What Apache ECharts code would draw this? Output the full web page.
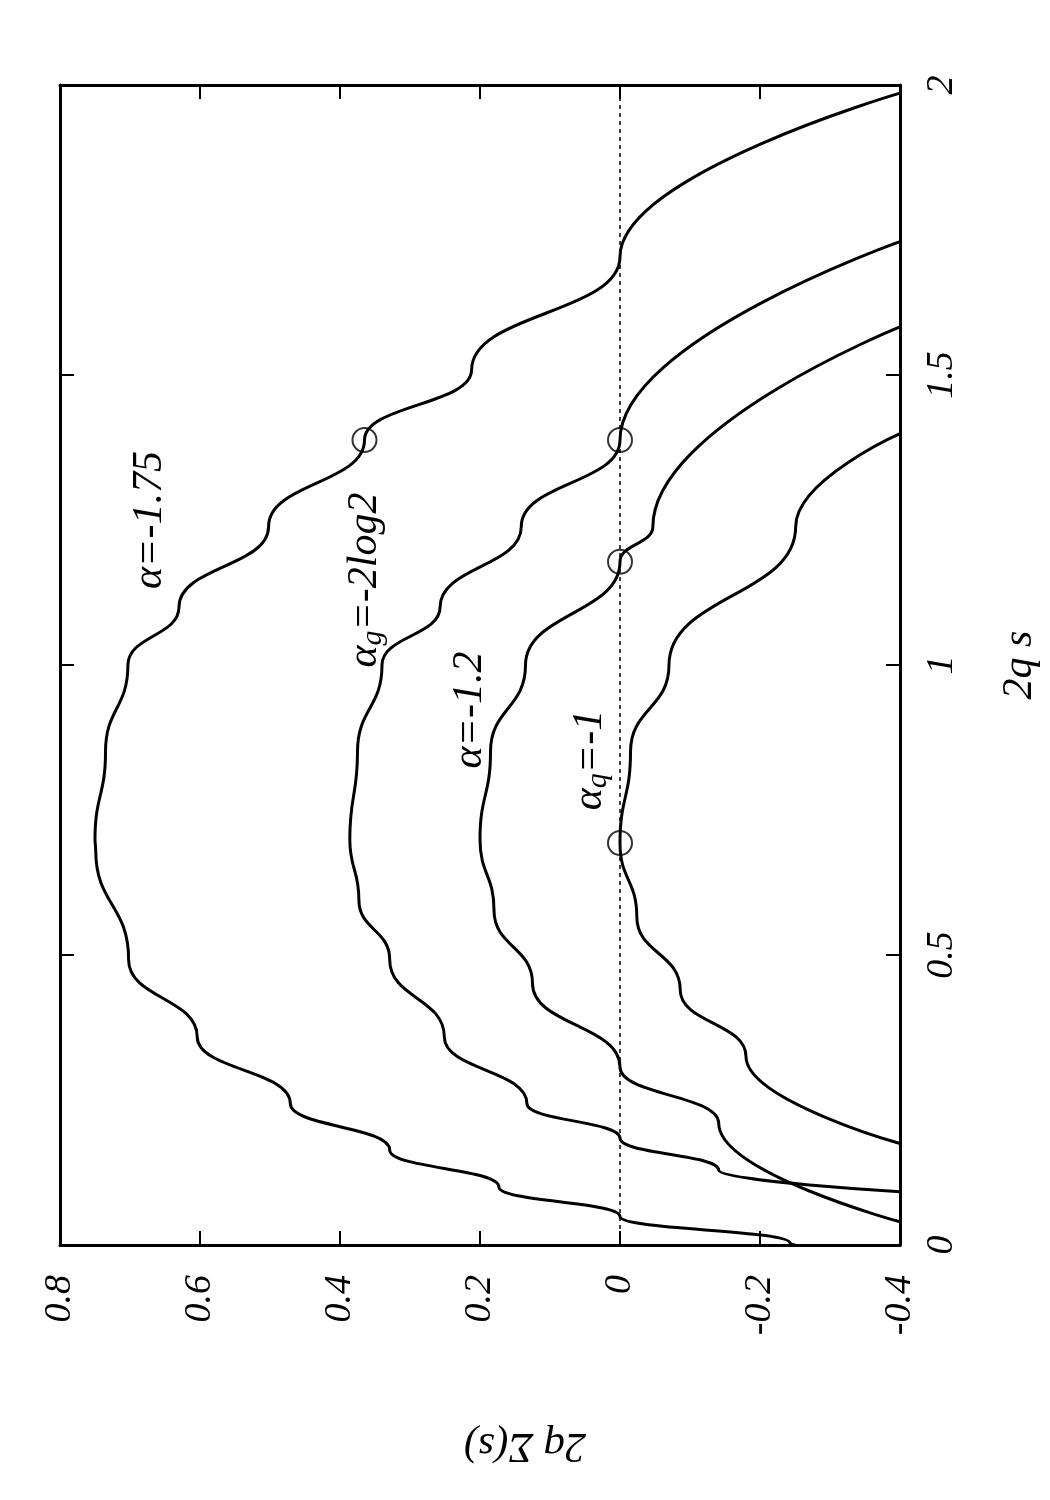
<!DOCTYPE html>
<html><head><meta charset="utf-8">
<script src="https://cdn.jsdelivr.net/npm/echarts@6/dist/echarts.min.js"></script>
<style>html,body{margin:0;background:#fff}#c{width:1050px;height:1500px}</style>
</head><body><div id="c"></div>
<script>
// each point: [2qΣ(s), 2qs]
const curveA = [[-0.25,0],[-0.243,0.003],[0,0.049],[0.173,0.100],[0.329,0.164],[0.471,0.244],[0.604,0.359],[0.702,0.492],[0.749,0.681],[0.75,0.70],[0.735,0.85],[0.703,1.0],[0.63,1.1],[0.502,1.239],[0.365,1.388],[0.212,1.509],[0,1.704],[-0.4,1.986]];
const curveB = [[-0.4,0.092],[-0.141,0.129],[0,0.184],[0.133,0.244],[0.251,0.359],[0.329,0.492],[0.373,0.595],[0.386,0.70],[0.375,0.85],[0.34,1.0],[0.257,1.1],[0.141,1.239],[0,1.388],[-0.4,1.730]];
const curveC = [[-0.4,0.040],[-0.141,0.210],[0,0.307],[0.125,0.451],[0.180,0.577],[0.2,0.70],[0.185,0.85],[0.135,1.0],[0,1.178],[-0.047,1.239],[-0.4,1.583]];
const curveD = [[-0.4,0.175],[-0.18,0.325],[-0.086,0.440],[-0.024,0.566],[0,0.693],[-0.015,0.85],[-0.07,1.0],[-0.251,1.239],[-0.4,1.399]];
const markers = [[0.365,1.388],[0,1.388],[0,1.178],[0,0.693]];
const zeroLine = [[0,0],[0,2]];
const labels = [
  {t:'{a|α=-1.75}', x:150, y:520},
  {t:'{a|α}{s|g}{a|=-2log2}', x:365, y:580},
  {t:'{a|α=-1.2}', x:470, y:710},
  {t:'{a|α}{s|q}{a|=-1}', x:590, y:760}
];
const font = 'Liberation Serif';
const chart = echarts.init(document.getElementById('c'));
const lineS = d => ({type:'line', data:d, smooth:0.5, smoothMonotone:'y', symbol:'none', lineStyle:{color:'#000', width:3}, xAxisIndex:0, yAxisIndex:0});
const axisCommon = {type:'value', splitLine:{show:false}, axisLine:{show:true, onZero:false, lineStyle:{color:'#000', width:3}}, axisTick:{inside:true, length:14, lineStyle:{color:'#000', width:2}}};
chart.setOption({
  animation:false,
  grid:{left:60, right:150, top:85, bottom:255},
  xAxis:[
    Object.assign({}, axisCommon, {min:-0.4, max:0.8, interval:0.2, inverse:true, position:'bottom',
      axisLabel:{rotate:90, margin:30, color:'#000', fontSize:38, fontStyle:'italic', fontFamily:font, formatter:v=>String(Math.round(v*10)/10)}}),
    Object.assign({}, axisCommon, {min:-0.4, max:0.8, interval:0.2, inverse:true, position:'top', axisLabel:{show:false}})
  ],
  yAxis:[
    Object.assign({}, axisCommon, {min:0, max:2, interval:0.5, position:'right',
      axisLabel:{rotate:90, margin:42, align:'center', verticalAlign:'middle', color:'#000', fontSize:38, fontStyle:'italic', fontFamily:font, formatter:v=>String(v)}}),
    Object.assign({}, axisCommon, {min:0, max:2, interval:0.5, position:'left', axisLabel:{show:false}})
  ],
  series:[
    {type:'line', data:zeroLine, symbol:'none', lineStyle:{color:'#000', width:1.5, type:[4,4]}},
    lineS(curveA), lineS(curveB), lineS(curveC), lineS(curveD),
    {type:'scatter', data:markers, symbol:'circle', symbolSize:24, z:5, itemStyle:{color:'rgba(0,0,0,0)', borderColor:'#000', borderWidth:2}}
  ],
  graphic: labels.map(l => ({type:'text', x:l.x, y:l.y, rotation:Math.PI/2,
      style:{text:l.t, align:'center', verticalAlign:'middle', rich:{a:{fontSize:42, fontStyle:'italic', fontFamily:font, fill:'#000'}, s:{fontSize:30, fontStyle:'italic', fontFamily:font, fill:'#000', verticalAlign:'bottom', padding:[16,0,0,0]}}}}))
    .concat([
      {type:'text', x:1020, y:665, rotation:Math.PI/2, style:{text:'2q s', align:'center', verticalAlign:'middle', fontSize:42, fontStyle:'italic', fontFamily:font, fill:'#000'}},
      {type:'text', x:525, y:1445, rotation:Math.PI, style:{text:'2q Σ(s)', align:'center', verticalAlign:'middle', fontSize:42, fontStyle:'italic', fontFamily:font, fill:'#000'}}
    ])
});
</script></body></html>
